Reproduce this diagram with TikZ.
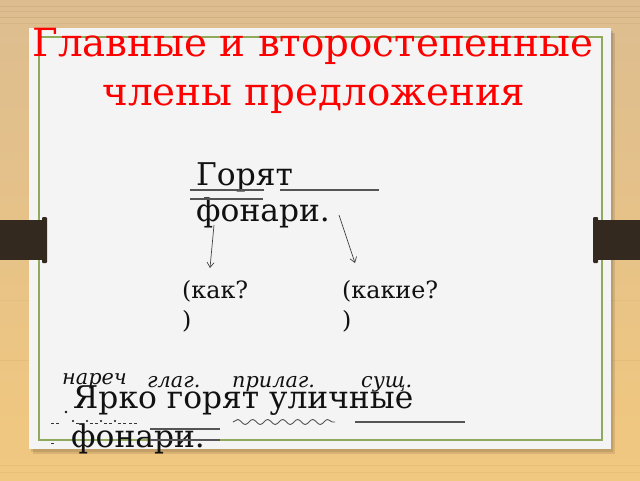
\documentclass[tikz,border=0pt]{standalone}
\usepackage{fontspec}
\setmainfont{DejaVu Serif}
\usetikzlibrary{decorations.pathmorphing,arrows.meta}
\definecolor{wtop}{HTML}{DDBD90}
\definecolor{wbot}{HTML}{F1C87F}
\definecolor{board}{HTML}{F4F4F4}
\definecolor{frame}{HTML}{8FAA5C}
\definecolor{bracket}{HTML}{33291F}
\definecolor{ink}{HTML}{111111}
\definecolor{uline}{HTML}{555555}
\tikzset{
  txt/.style={inner sep=0pt, anchor=base west, text=ink},
  titletxt/.style={inner sep=0pt, anchor=base, text=red, font=\fontsize{38.8}{44}\selectfont},
  sent/.style={txt, font=\fontsize{31.3}{36}\selectfont},
  quest/.style={txt, font=\fontsize{23.8}{28}\selectfont},
  poslabel/.style={txt, font=\fontsize{20.8}{24}\selectfont\itshape},
  ul/.style={draw=uline, line width=1.1pt},
  arr/.style={draw=ink!80, line width=0.7pt, -{Straight Barb[length=5pt,width=7pt]}},
  dashmark/.style={draw=ink!85, line width=0.9pt}
}
\begin{document}
\begin{tikzpicture}[x=1pt,y=-1pt]
\useasboundingbox (0,0) rectangle (640,480);
% wood background
\shade[top color=wtop, bottom color=wbot] (0,0) rectangle (640,480);
\foreach \yy/\op in {6/0.10,11/0.08,17/0.12,23/0.07,300/0.05,360/0.06,465/0.08,472/0.06}{
  \draw[brown!60!black, opacity=\op, line width=0.6pt] (0,\yy) -- (640,\yy);
}
% board shadow
\fill[black, opacity=0.10] (33,33) rectangle (615,454);
\fill[black, opacity=0.10] (31,31) rectangle (613,452);
% board
\fill[board] (29,28) rectangle (611,449);
% green frame
\draw[frame, line width=1.3pt] (39,37) rectangle (602,440);
% brackets
\fill[bracket] (0,220) rectangle (44,260);
\fill[bracket, rounded corners=1pt] (42,217) rectangle (47,263);
\fill[bracket] (596,220) rectangle (640,260);
\fill[bracket, rounded corners=1pt] (593,217) rectangle (598,263);
% title
\node[titletxt] (t1) at (313,56) {Главные и второстепенные};
\node[titletxt] (t2) at (314,105) {члены предложения};
% top sentence
\node[sent] (s1) at (196,185) {Горят};
\node[sent] (s2) at (196,221) {фонари.};
\coordinate (u1a) at (190,190); \coordinate (u1b) at (264,190);
\coordinate (u2a) at (190,199); \coordinate (u2b) at (263,199);
\coordinate (u3a) at (280,190); \coordinate (u3b) at (379,190);
\draw[ul] (u1a) -- (u1b);
\draw[ul] (u2a) -- (u2b);
\draw[ul] (u3a) -- (u3b);
% questions
\node[quest] (q1) at (182,298) {(как?};
\node[quest] (q1b) at (182,328) {)};
\node[quest] (q2) at (342,298) {(какие?};
\node[quest] (q2b) at (342,328) {)};
% arrows
\coordinate (a1s) at (214,225); \coordinate (a1e) at (210,268);
\coordinate (a2s) at (339,215); \coordinate (a2e) at (355,263);
\draw[arr] (a1s) -- (a1e);
\draw[arr] (a2s) -- (a2e);
% parts of speech
\node[poslabel] (p1) at (62,384) {нареч};
\node[poslabel] (p2) at (147,387) {глаг.};
\node[poslabel] (p3) at (232,387) {прилаг.};
\node[poslabel] (p4) at (361,387) {сущ.};
% bottom sentence
\node[sent] (b1) at (73,408) {Ярко горят уличные};
\node[sent] (b2) at (71,447) {фонари.};
% dot and dash-dot marks
\fill[ink] (66,412) circle (1.4pt);
\draw[dashmark] (51,423) -- (54,423) (56,423) -- (59,423);
\foreach \xx in {73,87,101,115}{
  \fill[ink] (\xx,421) circle (1.1pt);
  \draw[dashmark] (\xx+3,423) -- (\xx+6,423) (\xx+8,423) -- (\xx+11,423);
}
\draw[dashmark] (129,423) -- (132,423) (134,423) -- (137,423);
\draw[dashmark] (51,443) -- (54,443);
% underlines bottom
\coordinate (v1a) at (150,429); \coordinate (v1b) at (220,429);
\coordinate (v2a) at (150,440); \coordinate (v2b) at (220,440);
\draw[ul] (v1a) -- (v1b);
\draw[ul] (v2a) -- (v2b);
\coordinate (w1a) at (233,422); \coordinate (w1b) at (335,422);
\draw[ul, line width=0.9pt, decorate, decoration={snake, segment length=15pt, amplitude=2.5pt}] (w1a) -- (w1b);
\coordinate (x1a) at (355,422); \coordinate (x1b) at (465,422);
\draw[ul] (x1a) -- (x1b);
\end{tikzpicture}
\end{document}
